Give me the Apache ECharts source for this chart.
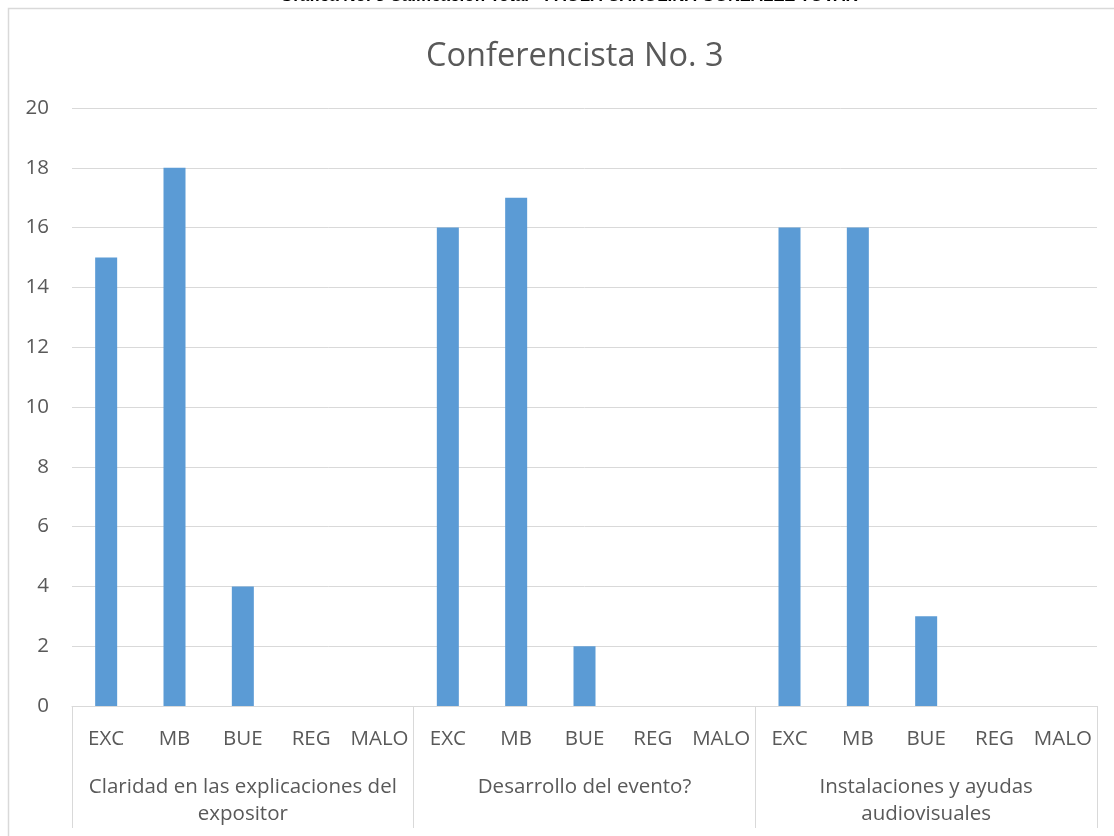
<!DOCTYPE html>
<html>
<head>
<meta charset="utf-8">
<script src="https://cdn.jsdelivr.net/npm/echarts@6/dist/echarts.min.js"></script>
<style>html,body{margin:0;padding:0;background:#fff;}#c{width:1114px;height:836px;}</style>
</head>
<body>
<div id="c"></div>
<script>
const ratings = ['EXC', 'MB', 'BUE', 'REG', 'MALO'];
const groups = ['Claridad en las explicaciones del\nexpositor', 'Desarrollo del evento?', 'Instalaciones y ayudas\naudiovisuales'];
const claridad = [15, 18, 4, 0, 0];
const desarrollo = [16, 17, 2, 0, 0];
const instalaciones = [16, 16, 3, 0, 0];
const yTicks = [0, 2, 4, 6, 8, 10, 12, 14, 16, 18, 20];
const titleText = 'Conferencista No. 3';
const headerText = 'Gráfica No. 3 Calificación Total - PAOLA CAROLINA GONZÁLEZ TOVAR';

const categories = [].concat(ratings, ratings, ratings);
const values = [].concat(claridad, desarrollo, instalaciones);
const font = '"Open Sans", "Noto Sans", sans-serif';

const chart = echarts.init(document.getElementById('c'), null, {renderer: 'canvas'});
chart.setOption({
  animation: false,
  backgroundColor: '#fff',
  title: {
    text: titleText, left: 421, top: 35,
    textStyle: {fontFamily: font, fontSize: 32.5, fontWeight: 'normal', color: '#595959'}
  },
  graphic: [
    {type: 'rect', shape: {x: 8.5, y: 8.5, width: 1200, height: 900}, style: {fill: 'none', stroke: '#d9d9d9', lineWidth: 1.5}, silent: true},
    {type: 'text', left: 280, top: -12, style: {text: headerText, font: 'bold 17px "Liberation Sans", Arial, sans-serif', fill: '#000'}}
  ],
  grid: {left: 72, right: 17, top: 108, bottom: 130, containLabel: false},
  xAxis: [
    {
      type: 'category', data: categories, position: 'bottom',
      axisLine: {show: true, lineStyle: {color: '#d9d9d9', width: 1}},
      axisTick: {show: false},
      axisLabel: {interval: 0, margin: 23, fontFamily: font, fontSize: 20.5, color: '#595959'}
    },
    {
      type: 'category', data: groups, position: 'bottom',
      axisLine: {show: false},
      axisTick: {show: true, length: 122, lineStyle: {color: '#d9d9d9', width: 1}},
      axisLabel: {interval: 0, margin: 68, lineHeight: 27, fontFamily: font, fontSize: 20.5, color: '#595959'}
    }
  ],
  yAxis: {
    type: 'value', min: 0, max: 20, interval: 2,
    axisLine: {show: false}, axisTick: {show: false},
    axisLabel: {margin: 23, fontFamily: font, fontSize: 20.5, color: '#595959',
      formatter: v => yTicks.includes(v) ? String(v) : ''},
    splitLine: {lineStyle: {color: '#d9d9d9', width: 1}}
  },
  series: [{
    type: 'bar', data: values, xAxisIndex: 0, barWidth: 22,
    itemStyle: {color: '#5b9bd5'}
  }]
});
</script>
</body>
</html>
